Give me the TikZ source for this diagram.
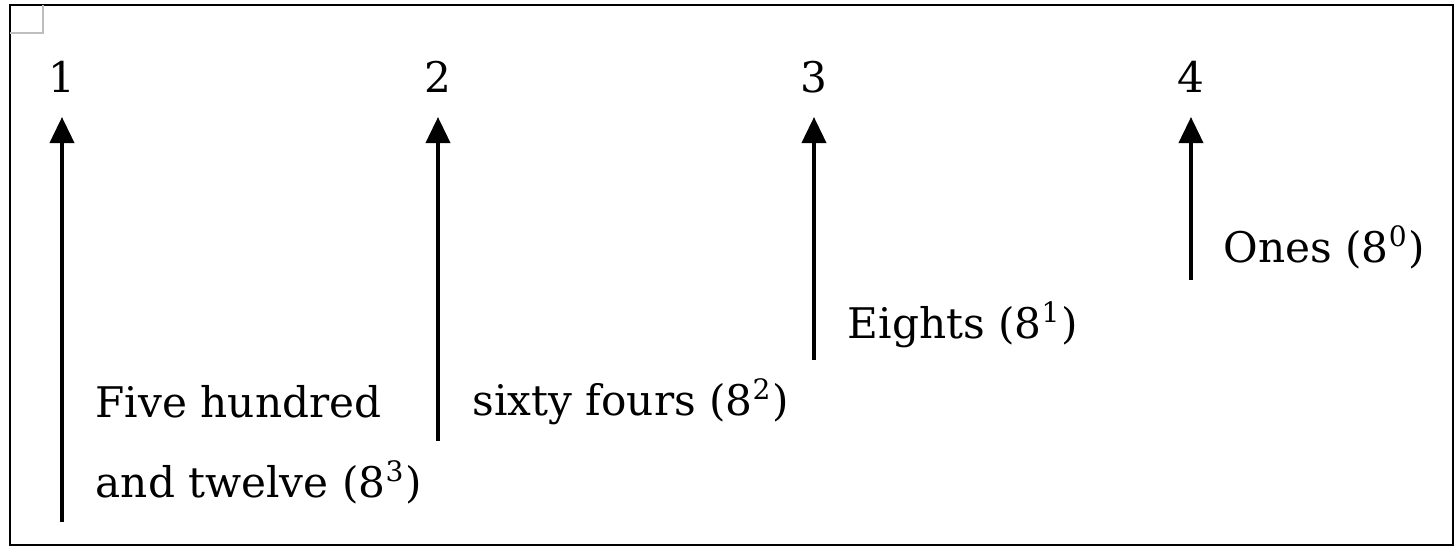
\documentclass[tikz,border=0pt]{standalone}
\usepackage{fontspec}
\setmainfont{DejaVu Serif}
\usetikzlibrary{positioning,arrows.meta}
\definecolor{pvgrey}{RGB}{190,190,190}
\tikzset{
  digit/.style={font=\fontsize{12}{14}\selectfont,inner xsep=2pt,inner ysep=0pt,anchor=base},
  place/.style={font=\fontsize{12}{22.7}\selectfont,inner sep=0pt,anchor=base west,align=left},
  pvarrow/.style={line width=1.1pt,-{Triangle[length=0.26cm,width=0.24cm]}}
}
\newcommand{\pw}[1]{\textsuperscript{#1}}

\begin{document}
\begin{tikzpicture}[x=0.01cm,y=-0.01cm]
  \useasboundingbox (0,0) rectangle (1456,548);
  % page frame and corner mark
  \draw[line width=0.6pt] (10,5) rectangle (1453,545);
  \draw[pvgrey,line width=0.6pt] (10,33) -- (43,33) -- (43,5);
  % digits and their arrows
  \foreach \i/\x/\y in {1/62/522, 2/438/441, 3/814/360, 4/1191/280}
    {\node[digit] (d\i) at (\x,92) {\i};
     \coordinate (b\i) at (\x,\y);
     \coordinate (t\i) at (\x,117);
     \draw[pvarrow] (b\i) -- (t\i);}
  % place values
  \node[place] (p1) at (95,497) {Five hundred\\and twelve (8\pw{3})};
  \node[place] (p2) at (472,415) {sixty fours (8\pw{2})};
  \node[place] (p3) at (847,338) {Eights (8\pw{1})};
  \node[place] (p4) at (1223,262) {Ones (8\pw{0})};
\end{tikzpicture}
\end{document}
